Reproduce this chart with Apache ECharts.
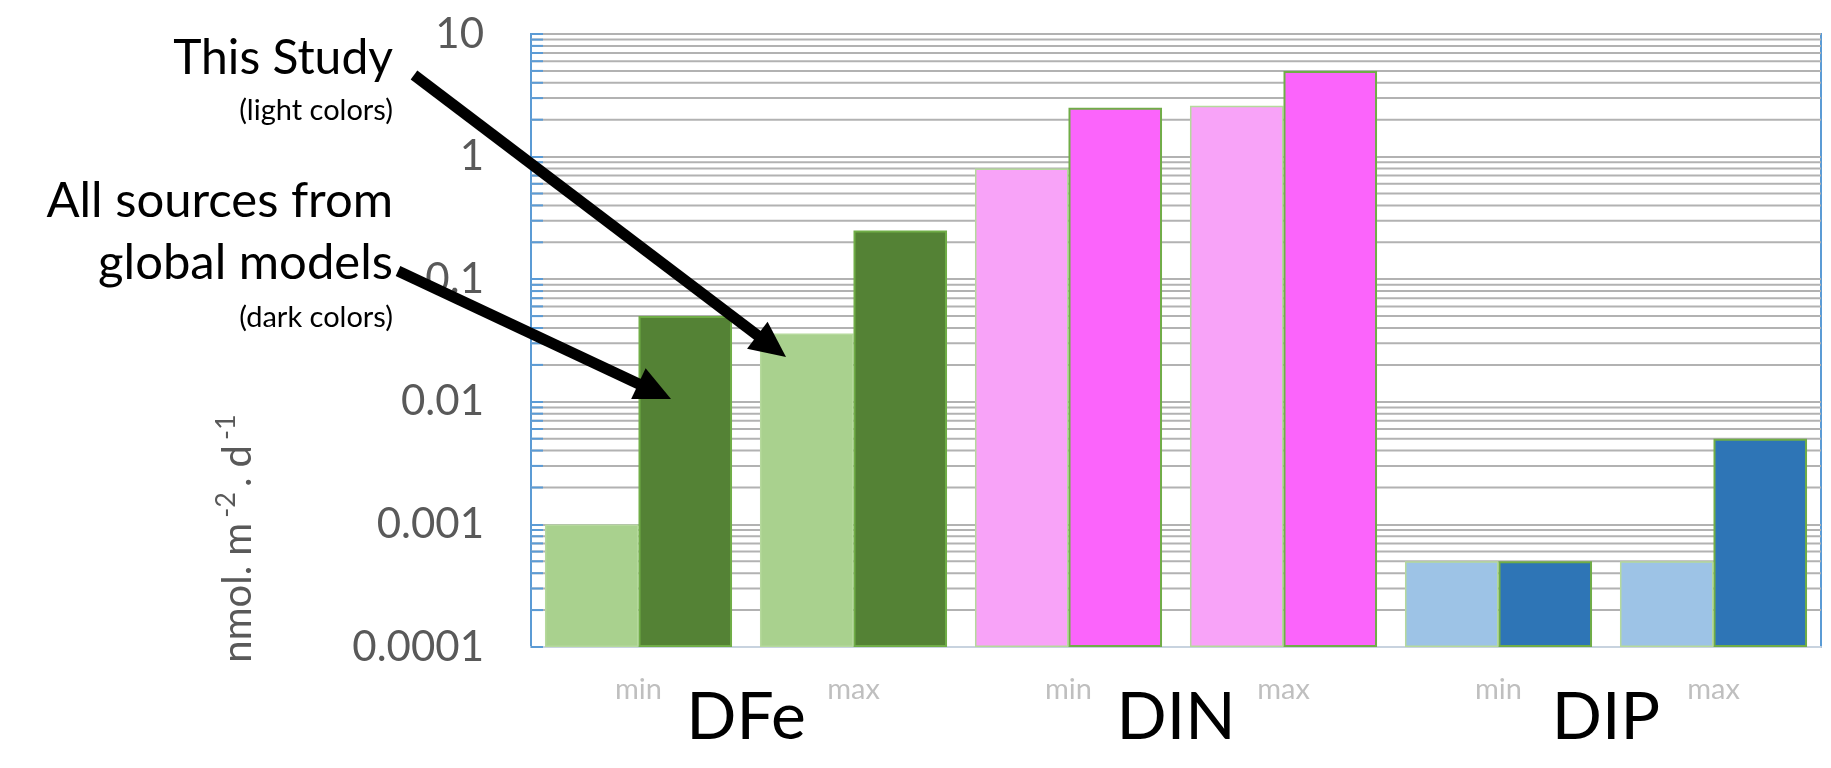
<!DOCTYPE html>
<html>
<head>
<meta charset="utf-8">
<title>DFe DIN DIP</title>
<script src="https://cdn.jsdelivr.net/npm/echarts@6/dist/echarts.min.js"></script>
<style>
  html, body { margin: 0; padding: 0; background: #fff; }
  #chart { width: 1831px; height: 768px; }
</style>
</head>
<body>
<div id="chart"></div>
<script>
// categories on the x axis (min / max for each nutrient)
var categories = ['min', 'max', 'min', 'max', 'min', 'max'];
var groups = ['DFe', 'DIN', 'DIP'];

// fluxes, nmol m-2 d-1
var thisStudy = [0.001, 0.036, 0.8, 2.6, 0.0005, 0.0005];
var globalModels = [0.05, 0.25, 2.5, 5, 0.0005, 0.005];

// y axis decades and their labels
var yDecades = [0.0001, 0.001, 0.01, 0.1, 1, 10];
var yTickLabels = ['0.0001', '0.001', '0.01', '0.1', '1', '10'];

var lightColors = ['#a9d18e', '#f8a3f8', '#9dc3e6'];
var darkColors = ['#548235', '#fb64fb', '#2e75b6'];

var axisBlue = '#5b9bd5';
var gridGrey = '#b2b2b2';
var font = 'Lato';

// minor gridlines 2..9 inside each decade
var minorTicks = [];
for (var d = 0; d < yDecades.length - 1; d++) {
    for (var m = 2; m <= 9; m++) {
        minorTicks.push(+(yDecades[d] * m).toPrecision(2));
    }
}

function barData(values, colors) {
    return values.map(function (v, i) {
        return { value: v, itemStyle: { color: colors[Math.floor(i / 2)] } };
    });
}

// arrow = thick line + triangle head
function arrow(x1, y1, x2, y2) {
    var dx = x2 - x1, dy = y2 - y1;
    var len = Math.sqrt(dx * dx + dy * dy);
    var ux = dx / len, uy = dy / len;
    var headLen = 36, headW = 34;
    var bx = x2 - ux * headLen, by = y2 - uy * headLen;
    return [
        {
            type: 'line',
            shape: { x1: x1, y1: y1, x2: bx + ux * 4, y2: by + uy * 4 },
            style: { stroke: '#000', lineWidth: 11 },
            z: 100
        },
        {
            type: 'polygon',
            shape: { points: [[x2, y2], [bx - uy * headW / 2, by + ux * headW / 2], [bx + uy * headW / 2, by - ux * headW / 2]] },
            style: { fill: '#000' },
            z: 100
        }
    ];
}

var myChart = echarts.init(document.getElementById('chart'));

var graphics = [
    { type: 'text', x: 393, y: 59, style: { text: 'This Study', font: '48px ' + font, fill: '#000', textAlign: 'right', textVerticalAlign: 'middle' } },
    { type: 'text', x: 393, y: 111, style: { text: '(light colors)', font: '29px ' + font, fill: '#000', textAlign: 'right', textVerticalAlign: 'middle' } },
    { type: 'text', x: 393, y: 201, style: { text: 'All sources from', font: '49px ' + font, fill: '#000', textAlign: 'right', textVerticalAlign: 'middle' } },
    { type: 'text', x: 393, y: 263, style: { text: 'global models', font: '49px ' + font, fill: '#000', textAlign: 'right', textVerticalAlign: 'middle' } },
    { type: 'text', x: 393, y: 318, style: { text: '(dark colors)', font: '29px ' + font, fill: '#000', textAlign: 'right', textVerticalAlign: 'middle' } },
    // y axis title
    {
        type: 'text',
        x: 232, y: 536,
        rotation: Math.PI / 2,
        style: {
            text: '{a|nmol. m}{s|-2}{a|. d}{s|-1}',
            textAlign: 'center',
            textVerticalAlign: 'middle',
            rich: {
                a: { fontSize: 40, fontFamily: font, fill: '#595959', color: '#595959', padding: [12, 0, 0, 0] },
                s: { fontSize: 27, fontFamily: font, fill: '#595959', color: '#595959', padding: [0, 5, 12, 5] }
            }
        }
    }
].concat(arrow(414, 75, 786, 357), arrow(398, 271, 671, 399));

var option = {
    animation: false,
    grid: {
        left: 531,
        right: 10,
        top: 34,
        bottom: 121,
        show: true,
        borderColor: axisBlue,
        borderWidth: 2
    },
    xAxis: [
        {
            type: 'category',
            data: categories,
            axisLine: { lineStyle: { color: '#c8d3df', width: 2 } },
            axisTick: { show: false },
            axisLabel: { color: '#bfbfbf', fontSize: 29, fontFamily: font, margin: 28 }
        },
        {
            type: 'category',
            data: groups,
            position: 'bottom',
            axisLine: { show: false },
            axisTick: { show: false },
            axisLabel: { color: '#000', fontSize: 66, fontFamily: font, margin: 38 }
        }
    ],
    yAxis: {
        type: 'log',
        logBase: 10,
        min: yDecades[0],
        max: yDecades[yDecades.length - 1],
        startValue: yDecades[0],
        axisLine: { show: true, lineStyle: { color: axisBlue, width: 2 } },
        axisTick: { show: true, inside: true, length: 12, lineStyle: { color: axisBlue, width: 2 } },
        axisLabel: {
            color: '#595959',
            fontSize: 42,
            fontFamily: font,
            margin: 47,
            formatter: function (v, i) { return yTickLabels[i]; }
        },
        splitLine: { show: true, lineStyle: { color: gridGrey, width: 2 } }
    },
    graphic: graphics,
    series: [
        {
            // minor gridlines and minor ticks of the log axis
            type: 'custom',
            silent: true,
            z: 1,
            data: minorTicks.map(function (v) { return [0, v]; }),
            renderItem: function (params, api) {
                var y = api.coord([0, api.value(1)])[1];
                var cs = params.coordSys;
                return {
                    type: 'group',
                    children: [
                        { type: 'line', shape: { x1: cs.x, y1: y, x2: cs.x + cs.width, y2: y }, style: { stroke: gridGrey, lineWidth: 2 } },
                        { type: 'line', shape: { x1: cs.x, y1: y, x2: cs.x + 12, y2: y }, style: { stroke: axisBlue, lineWidth: 2 } }
                    ]
                };
            }
        },
        {
            name: 'This Study',
            type: 'bar',
            z: 3,
            barGap: '0%',
            barCategoryGap: '13%',
            itemStyle: { borderColor: '#b5d99c', borderWidth: 1.5 },
            data: barData(thisStudy, lightColors)
        },
        {
            name: 'Global models',
            type: 'bar',
            z: 3,
            itemStyle: { borderColor: '#70ad47', borderWidth: 2 },
            data: barData(globalModels, darkColors)
        }
    ]
};

myChart.setOption(option);
</script>
</body>
</html>
